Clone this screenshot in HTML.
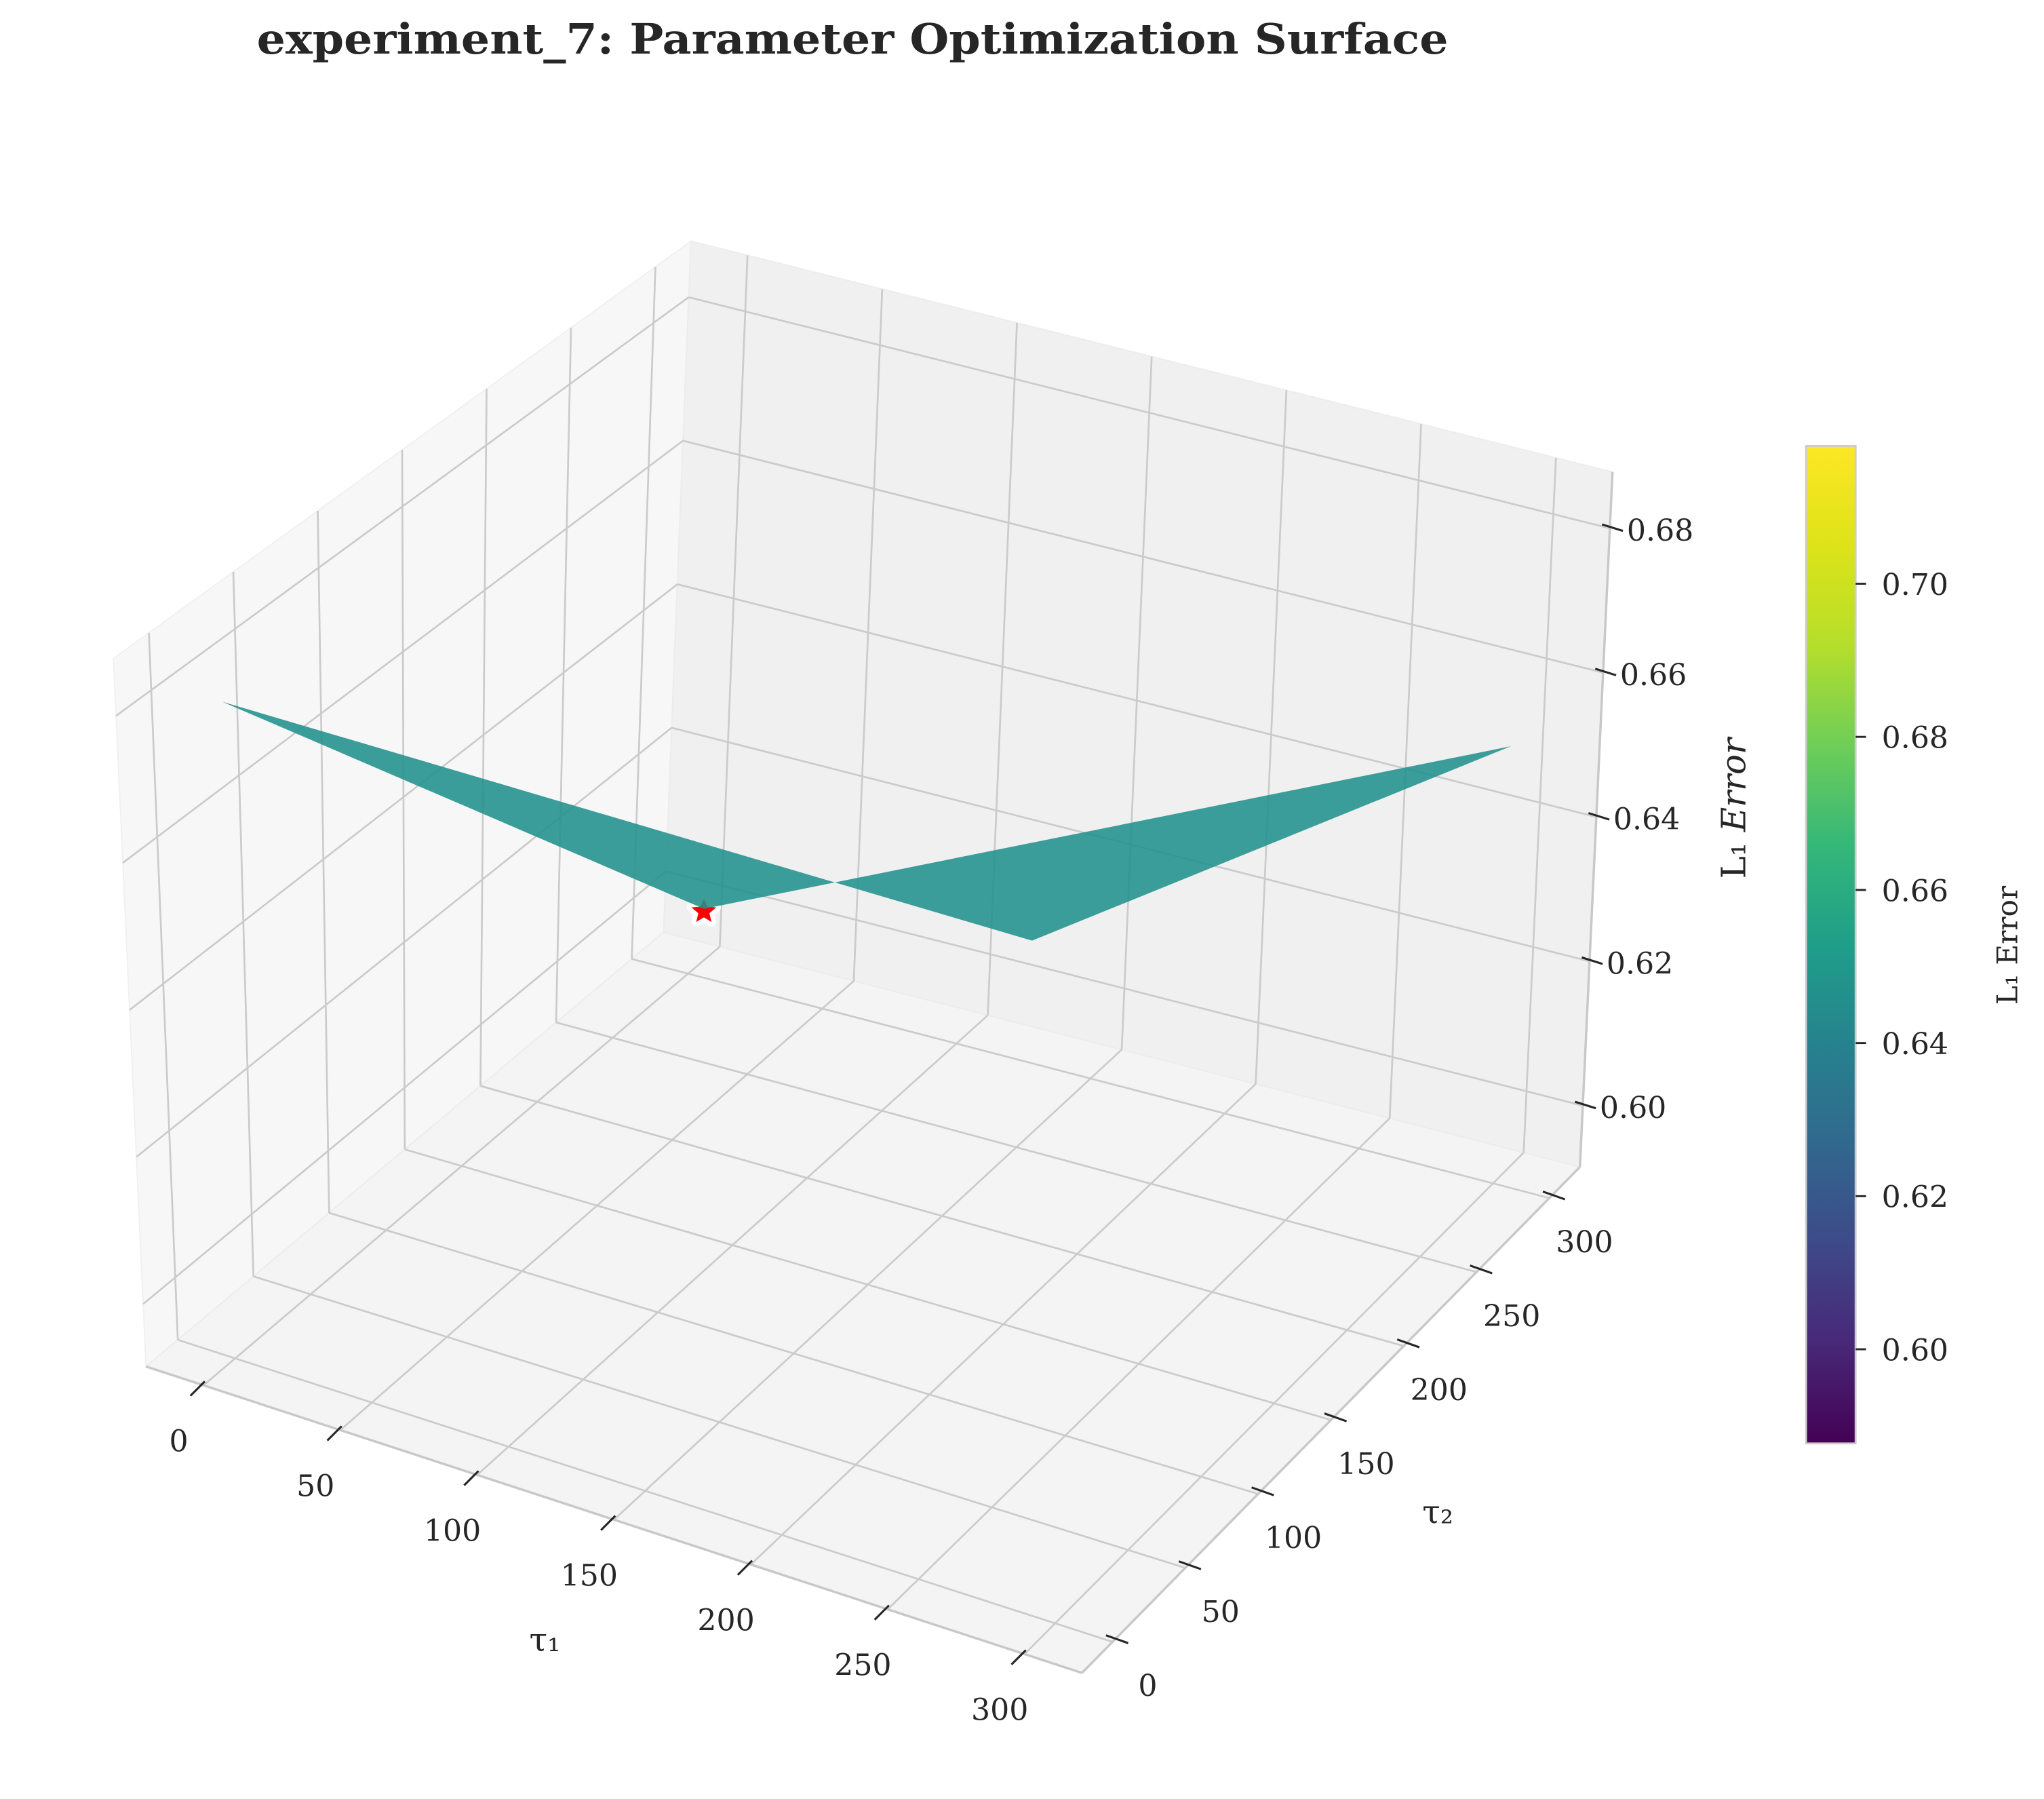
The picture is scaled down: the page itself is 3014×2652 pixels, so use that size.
<!DOCTYPE html>
<html><head><meta charset="utf-8"><style>
html,body{margin:0;padding:0;background:#fff}
svg{display:block}
text{font-family:"DejaVu Serif","Liberation Serif",serif;fill:#262626}
</style></head><body>
<svg id="chart" xmlns="http://www.w3.org/2000/svg" width="3014" height="2652" viewBox="0 0 1568 1379.7">
<defs>
<linearGradient id="viridis" x1="0" y1="1" x2="0" y2="0">
<stop offset="0" stop-color="#440154"/><stop offset="0.1" stop-color="#482878"/><stop offset="0.2" stop-color="#3e4989"/><stop offset="0.3" stop-color="#31688e"/><stop offset="0.4" stop-color="#26828e"/><stop offset="0.5" stop-color="#1f9e89"/><stop offset="0.6" stop-color="#35b779"/><stop offset="0.7" stop-color="#6ece58"/><stop offset="0.8" stop-color="#b5de2b"/><stop offset="0.9" stop-color="#dde318"/><stop offset="1" stop-color="#fde725"/>
</linearGradient>
</defs>
<text x="654" y="41" text-anchor="middle" font-size="32" font-weight="bold" textLength="914" lengthAdjust="spacingAndGlyphs">experiment_7: Parameter Optimization Surface</text>
<g id="panes"></g>
<g id="grid"></g>
<g id="axes"></g>
<g id="marks"></g>
<g id="cbar"></g>
</svg>
<script>
// data
const tau1Vals = [5, 300];
const tau2Vals = [0, 300];
const zRow0 = [0.6815, 0.601];  // tau1 = 5, tau2 = 0 / 300
const zRow1 = [0.684, 0.652];   // tau1 = 300, tau2 = 0 / 300
const bestTau1 = 5;
const bestTau2 = 300;
const bestZ = 0.601;
const tau1Ticks = [0, 50, 100, 150, 200, 250, 300];
const tau2Ticks = [0, 50, 100, 150, 200, 250, 300];
const zTicks = [0.60, 0.62, 0.64, 0.66, 0.68];
const cbarTicks = [0.60, 0.62, 0.64, 0.66, 0.68, 0.70];

const NS = "http://www.w3.org/2000/svg";
const T1 = [-21, 321], T2 = [-21, 321], ZR = [0.5915, 0.6878];
const CB = [0.5877, 0.718];
const FL = {a:[112,1048], b:[830,1283], c:[509,715], d:[1212,895]};
const TP = {a:[87,505], b:[809,737], c:[530,185], d:[1237,362]};
function bil(C,u,v){
  return [C.a[0]*(1-u)*(1-v)+C.b[0]*u*(1-v)+C.c[0]*(1-u)*v+C.d[0]*u*v,
          C.a[1]*(1-u)*(1-v)+C.b[1]*u*(1-v)+C.c[1]*(1-u)*v+C.d[1]*u*v];
}
function P(t1,t2,z){
  const u=(t1-T1[0])/(T1[1]-T1[0]), v=(t2-T2[0])/(T2[1]-T2[0]), w=(z-ZR[0])/(ZR[1]-ZR[0]);
  const f=bil(FL,u,v), t=bil(TP,u,v);
  return [f[0]+(t[0]-f[0])*w, f[1]+(t[1]-f[1])*w];
}
function el(parent,tag,attrs){const e=document.createElementNS(NS,tag);for(const k in attrs)e.setAttribute(k,attrs[k]);document.getElementById(parent).appendChild(e);return e;}
function pts(a){return a.map(p=>p[0].toFixed(1)+","+p[1].toFixed(1)).join(" ");}

let e;
e=el("panes","polygon",{points:pts([P(T1[0],T2[0],ZR[0]),P(T1[0],T2[1],ZR[0]),P(T1[0],T2[1],ZR[1]),P(T1[0],T2[0],ZR[1])]),fill:"#f7f7f7",stroke:"#f0f0f0"});


e=el("panes","polygon",{points:pts([P(T1[0],T2[1],ZR[0]),P(T1[1],T2[1],ZR[0]),P(T1[1],T2[1],ZR[1]),P(T1[0],T2[1],ZR[1])]),fill:"#f0f0f0",stroke:"#ececec"});


e=el("panes","polygon",{points:pts([P(T1[0],T2[0],ZR[0]),P(T1[1],T2[0],ZR[0]),P(T1[1],T2[1],ZR[0]),P(T1[0],T2[1],ZR[0])]),fill:"#f4f4f4",stroke:"#ececec"});



function gl(a,b,name){const l=el("grid","line",{x1:a[0],y1:a[1],x2:b[0],y2:b[1],stroke:"#cbcbcb","stroke-width":1.4});

}
tau1Ticks.forEach(t=>{gl(P(t,T2[0],ZR[0]),P(t,T2[1],ZR[0]),'grid-floor-tau1');gl(P(t,T2[1],ZR[0]),P(t,T2[1],ZR[1]),'grid-back-tau1');});
tau2Ticks.forEach(t=>{gl(P(T1[0],t,ZR[0]),P(T1[1],t,ZR[0]),'grid-floor-tau2');gl(P(T1[0],t,ZR[0]),P(T1[0],t,ZR[1]),'grid-left-tau2');});
zTicks.forEach(z=>{gl(P(T1[0],T2[0],z),P(T1[0],T2[1],z),'grid-left-z');gl(P(T1[0],T2[1],z),P(T1[1],T2[1],z),'grid-back-z');});

function al(a,b,name){const l=el("axes","line",{x1:a[0],y1:a[1],x2:b[0],y2:b[1],stroke:"#c8c8c8","stroke-width":1.8});

}
al(P(T1[0],T2[0],ZR[0]),P(T1[1],T2[0],ZR[0]),'tau1-axis-line');
al(P(T1[1],T2[0],ZR[0]),P(T1[1],T2[1],ZR[0]),'tau2-axis-line');
al(P(T1[1],T2[1],ZR[0]),P(T1[1],T2[1],ZR[1]),'z-axis-line');

function tick(p,d1,d2,name){const l=el("axes","line",{x1:p[0]+d1[0],y1:p[1]+d1[1],x2:p[0]+d2[0],y2:p[1]+d2[1],stroke:"#262626","stroke-width":1.6});

}
function lab(x,y,s,anchor,name,size){const t=el("axes","text",{x:x,y:y,"text-anchor":anchor,"dominant-baseline":"central","font-size":size||23});t.textContent=s;

return t;}
tau1Ticks.forEach(t=>{const p=P(t,T2[0],ZR[0]);tick(p,[1,-3],[-10,8],'tau1-tick');lab(p[0]-19,p[1]+43,String(t),"middle",'tau1-tick-label');});
tau2Ticks.forEach(t=>{const p=P(T1[1],t,ZR[0]);tick(p,[-5,-5],[12,1],'tau2-tick');lab(p[0]+27,p[1]+34,String(t),"middle",'tau2-tick-label');});
zTicks.forEach(z=>{const p=P(T1[1],T2[1],z);tick(p,[-6,-3],[10,2],'z-tick');lab(p[0]+13,p[1]+2,z.toFixed(2),"start",'z-tick-label');});
lab(418,1258,"τ₁","middle",'tau1-axis-title',25);
lab(1103,1160,"τ₂","middle",'tau2-axis-title',25);
const zl=lab(0,0,"","middle",'z-axis-title',26);
zl.setAttribute("transform","translate(1330,620) rotate(-90)");
zl.innerHTML='L₁ <tspan font-style="italic">Error</tspan>';

const bp=P(bestTau1,bestTau2,bestZ);
function star(r){let s=[];for(let i=0;i<10;i++){const a=-Math.PI/2+i*Math.PI/5,rr=i%2?r*0.45:r;s.push([bp[0]+rr*Math.cos(a),bp[1]+2+rr*Math.sin(a)]);}return pts(s);}
e=el("marks","polygon",{points:star(10),fill:"#ff0000",stroke:"#ffffff","stroke-width":7,"stroke-linejoin":"round","paint-order":"stroke"});



const corners=[P(tau1Vals[0],tau2Vals[0],zRow0[0]),P(tau1Vals[1],tau2Vals[0],zRow1[0]),P(tau1Vals[1],tau2Vals[1],zRow1[1]),P(tau1Vals[0],tau2Vals[1],zRow0[1])];
e=el("marks","polygon",{points:pts(corners),fill:"#21918c","fill-opacity":0.88,"fill-rule":"nonzero"});



const cbx=1385.5,cbw=38,cbt=342,cbb=1107;
e=el("cbar","rect",{x:cbx,y:cbt,width:cbw,height:cbb-cbt,fill:"url(#viridis)",stroke:"#cccccc","stroke-width":1.5});


function cy(v){return cbb-(v-CB[0])/(CB[1]-CB[0])*(cbb-cbt);}
cbarTicks.forEach(v=>{const y=cy(v);
const l=el("cbar","line",{x1:cbx+cbw,y1:y,x2:cbx+cbw+8,y2:y,stroke:"#262626","stroke-width":1.5});


const t=el("cbar","text",{x:cbx+cbw+20,y:y+1,"dominant-baseline":"central","font-size":23});t.textContent=v.toFixed(2);

});
const cl=el("cbar","text",{transform:"translate(1540,725) rotate(-90)","text-anchor":"middle","dominant-baseline":"central","font-size":22});
cl.textContent="L₁ Error";


</script>
</body></html>
